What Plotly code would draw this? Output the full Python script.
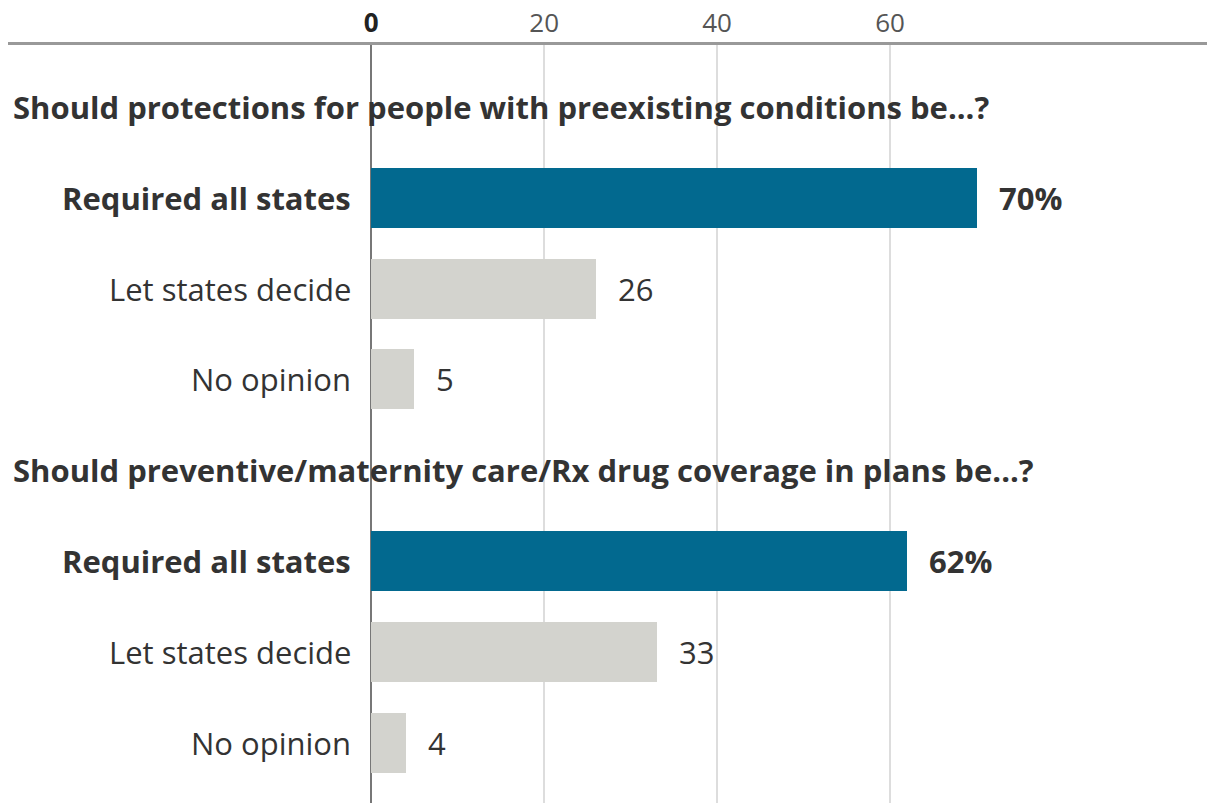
import plotly.graph_objects as go

section_titles = [
    "Should protections for people with preexisting conditions be...?",
    "Should preventive/maternity care/Rx drug coverage in plans be...?",
]
categories = ["Required all states", "Let states decide", "No opinion"]
values_protections = [70, 26, 5]
values_coverage = [62, 33, 4]
value_labels_protections = ["70%", "26", "5"]
value_labels_coverage = ["62%", "33", "4"]
tick_vals = [0, 20, 40, 60]
tick_labels = ["0", "20", "40", "60"]

BLUE = "#02698f"
GRAY = "#d3d3ce"
TEXT = "#333333"
FONT = "Open Sans"
FS = 31

sections = [
    (section_titles[0], values_protections, value_labels_protections),
    (section_titles[1], values_coverage, value_labels_coverage),
]

fig = go.Figure()
annotations = []
slots_per_section = len(categories) + 1

for s, (title, vals, vlabels) in enumerate(sections):
    base = s * slots_per_section
    title_pos = base
    positions = [base + 1 + i for i in range(len(categories))]
    colors = [BLUE if i == 0 else GRAY for i in range(len(categories))]
    fig.add_trace(go.Bar(
        x=vals, y=positions, orientation="h",
        marker=dict(color=colors, line=dict(width=0)),
        width=0.66, showlegend=False, hoverinfo="skip",
    ))
    annotations.append(dict(
        x=0, xref="paper", y=title_pos, yref="y", xanchor="left", yanchor="middle",
        text="<b>" + title + "</b>", showarrow=False, xshift=3,
        font=dict(family=FONT, size=FS, color=TEXT),
    ))
    for i, (cat, v, vl) in enumerate(zip(categories, vals, vlabels)):
        bold = i == 0
        annotations.append(dict(
            x=0, y=positions[i], xref="x", yref="y", xanchor="right", yanchor="middle",
            xshift=-18, showarrow=False,
            text=("<b>%s</b>" % cat) if bold else cat,
            font=dict(family=FONT, size=FS, color=TEXT),
        ))
        annotations.append(dict(
            x=v, y=positions[i], xref="x", yref="y", xanchor="left", yanchor="middle",
            xshift=20, showarrow=False,
            text=("<b>%s</b>" % vl) if bold else vl,
            font=dict(family=FONT, size=FS, color=TEXT),
        ))

ticktext = ["<b><span style='color:#222'>%s</span></b>" % t if t == "0" else t for t in tick_labels]

fig.update_layout(
    width=1215, height=803,
    margin=dict(l=0, r=13, t=37, b=8),
    paper_bgcolor="white", plot_bgcolor="white",
    annotations=annotations,
    bargap=0,
    xaxis=dict(
        side="top", range=[-42, 97], tickvals=tick_vals, ticktext=ticktext,
        showgrid=True, gridcolor="#dddddd", gridwidth=1.5,
        zeroline=True, zerolinecolor="#777777", zerolinewidth=1.5,
        showline=True, linecolor="#999999", linewidth=2.5,
        ticks="", ticklabelstandoff=0, automargin=False,
        tickfont=dict(family=FONT, size=26, color="#555555"),
        fixedrange=True,
    ),
    yaxis=dict(
        range=[7.66, -0.68], autorange=False, showgrid=False, zeroline=False,
        showticklabels=False, showline=False, ticks="", fixedrange=True,
        automargin=False,
    ),
)

fig.write_html("out.html")
